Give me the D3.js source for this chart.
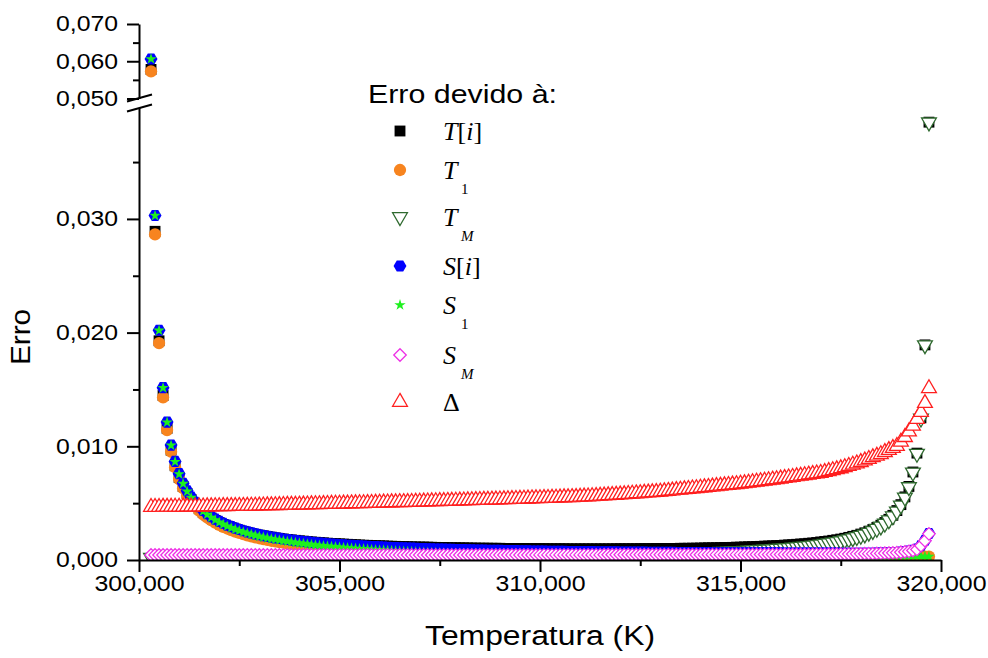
<!DOCTYPE html>
<html>
<head>
<meta charset="utf-8">
<script src="https://cdn.jsdelivr.net/npm/d3@7"></script>
<style>
  body { margin: 0; background: #fff; }
</style>
</head>
<body>
<div id="chart"></div>
<script>
// Temperatura (K) - one reading every 0.1 K
const temperatura = [
  300.3, 300.4, 300.5, 300.6, 300.7, 300.8, 300.9,
  301.0, 301.1, 301.2, 301.3, 301.4, 301.5, 301.6, 301.7, 301.8, 301.9,
  302.0, 302.1, 302.2, 302.3, 302.4, 302.5, 302.6, 302.7, 302.8, 302.9,
  303.0, 303.1, 303.2, 303.3, 303.4, 303.5, 303.6, 303.7, 303.8, 303.9,
  304.0, 304.1, 304.2, 304.3, 304.4, 304.5, 304.6, 304.7, 304.8, 304.9,
  305.0, 305.1, 305.2, 305.3, 305.4, 305.5, 305.6, 305.7, 305.8, 305.9,
  306.0, 306.1, 306.2, 306.3, 306.4, 306.5, 306.6, 306.7, 306.8, 306.9,
  307.0, 307.1, 307.2, 307.3, 307.4, 307.5, 307.6, 307.7, 307.8, 307.9,
  308.0, 308.1, 308.2, 308.3, 308.4, 308.5, 308.6, 308.7, 308.8, 308.9,
  309.0, 309.1, 309.2, 309.3, 309.4, 309.5, 309.6, 309.7, 309.8, 309.9,
  310.0, 310.1, 310.2, 310.3, 310.4, 310.5, 310.6, 310.7, 310.8, 310.9,
  311.0, 311.1, 311.2, 311.3, 311.4, 311.5, 311.6, 311.7, 311.8, 311.9,
  312.0, 312.1, 312.2, 312.3, 312.4, 312.5, 312.6, 312.7, 312.8, 312.9,
  313.0, 313.1, 313.2, 313.3, 313.4, 313.5, 313.6, 313.7, 313.8, 313.9,
  314.0, 314.1, 314.2, 314.3, 314.4, 314.5, 314.6, 314.7, 314.8, 314.9,
  315.0, 315.1, 315.2, 315.3, 315.4, 315.5, 315.6, 315.7, 315.8, 315.9,
  316.0, 316.1, 316.2, 316.3, 316.4, 316.5, 316.6, 316.7, 316.8, 316.9,
  317.0, 317.1, 317.2, 317.3, 317.4, 317.5, 317.6, 317.7, 317.8, 317.9,
  318.0, 318.1, 318.2, 318.3, 318.4, 318.5, 318.6, 318.7, 318.8, 318.9,
  319.0, 319.1, 319.2, 319.3, 319.4, 319.5, 319.6, 319.7
];

// Erro devido a T[i]
const erroTi = [
  0.0578, 0.02891, 0.01928, 0.01447, 0.01158, 0.00966, 0.00829,
  0.00726, 0.00646, 0.00583, 0.00531, 0.00487, 0.00451, 0.00419, 0.00392, 0.00369, 0.00348,
  0.00329, 0.00313, 0.00298, 0.00285, 0.00273, 0.00262, 0.00252, 0.00243, 0.00234, 0.00226,
  0.00219, 0.00213, 0.00206, 0.00201, 0.00195, 0.00190, 0.00185, 0.00181, 0.00177, 0.00173,
  0.00169, 0.00166, 0.00162, 0.00159, 0.00156, 0.00154, 0.00151, 0.00148, 0.00146, 0.00144,
  0.00142, 0.00140, 0.00138, 0.00136, 0.00134, 0.00132, 0.00130, 0.00129, 0.00127, 0.00126,
  0.00125, 0.00124, 0.00122, 0.00121, 0.00120, 0.00119, 0.00118, 0.00117, 0.00116, 0.00115,
  0.00114, 0.00114, 0.00113, 0.00112, 0.00111, 0.00110, 0.00110, 0.00109, 0.00108, 0.00108,
  0.00107, 0.00107, 0.00106, 0.00105, 0.00105, 0.00104, 0.00104, 0.00104, 0.00103, 0.00103,
  0.00103, 0.00102, 0.00102, 0.00102, 0.00101, 0.00101, 0.00101, 0.00100, 0.00100, 0.00100,
  0.00100, 0.00100, 0.00099, 0.00099, 0.00099, 0.00099, 0.00099, 0.00098, 0.00098, 0.00098,
  0.00098, 0.00098, 0.00098, 0.00098, 0.00098, 0.00098, 0.00098, 0.00098, 0.00098, 0.00099,
  0.00099, 0.00099, 0.00099, 0.00099, 0.00099, 0.00100, 0.00100, 0.00100, 0.00100, 0.00101,
  0.00101, 0.00101, 0.00101, 0.00102, 0.00102, 0.00103, 0.00103, 0.00103, 0.00104, 0.00104,
  0.00105, 0.00106, 0.00107, 0.00107, 0.00108, 0.00109, 0.00110, 0.00110, 0.00111, 0.00113,
  0.00113, 0.00115, 0.00116, 0.00117, 0.00119, 0.00120, 0.00122, 0.00123, 0.00125, 0.00127,
  0.00128, 0.00131, 0.00133, 0.00135, 0.00138, 0.00141, 0.00143, 0.00147, 0.00150, 0.00154,
  0.00159, 0.00163, 0.00167, 0.00173, 0.00178, 0.00184, 0.00191, 0.00199, 0.00208, 0.00217,
  0.00228, 0.00239, 0.00253, 0.00268, 0.00286, 0.00306, 0.00330, 0.00358, 0.00393, 0.00435,
  0.00487, 0.00555, 0.00647, 0.00774, 0.00940, 0.01250, 0.01892, 0.03851
];

// Erro devido a T1
const erroT1 = [
  0.0573, 0.02864, 0.01908, 0.01431, 0.01143, 0.00952, 0.00816,
  0.00712, 0.00632, 0.00568, 0.00515, 0.00472, 0.00434, 0.00402, 0.00375, 0.00350, 0.00329,
  0.00309, 0.00292, 0.00277, 0.00262, 0.00250, 0.00238, 0.00227, 0.00217, 0.00207, 0.00199,
  0.00191, 0.00183, 0.00176, 0.00169, 0.00163, 0.00157, 0.00152, 0.00146, 0.00141, 0.00136,
  0.00132, 0.00127, 0.00123, 0.00119, 0.00115, 0.00112, 0.00108, 0.00105, 0.00102, 0.00098,
  0.00095, 0.00092, 0.00090, 0.00087, 0.00084, 0.00082, 0.00079, 0.00077, 0.00074, 0.00072,
  0.00070, 0.00068, 0.00066, 0.00063, 0.00061, 0.00059, 0.00057, 0.00055, 0.00053, 0.00052,
  0.00050, 0.00048, 0.00047, 0.00045, 0.00044, 0.00042, 0.00040, 0.00039, 0.00037, 0.00036,
  0.00035, 0.00033, 0.00032, 0.00030, 0.00030, 0.00030, 0.00030, 0.00030, 0.00030, 0.00030,
  0.00030, 0.00030, 0.00030, 0.00030, 0.00030, 0.00030, 0.00030, 0.00030, 0.00030, 0.00030,
  0.00030, 0.00030, 0.00030, 0.00030, 0.00030, 0.00030, 0.00030, 0.00030, 0.00030, 0.00030,
  0.00030, 0.00030, 0.00030, 0.00030, 0.00030, 0.00030, 0.00030, 0.00030, 0.00030, 0.00030,
  0.00030, 0.00030, 0.00030, 0.00030, 0.00030, 0.00030, 0.00030, 0.00030, 0.00030, 0.00030,
  0.00030, 0.00030, 0.00030, 0.00030, 0.00030, 0.00030, 0.00030, 0.00030, 0.00030, 0.00030,
  0.00030, 0.00030, 0.00030, 0.00030, 0.00030, 0.00030, 0.00030, 0.00030, 0.00030, 0.00030,
  0.00030, 0.00030, 0.00030, 0.00030, 0.00030, 0.00030, 0.00030, 0.00030, 0.00030, 0.00030,
  0.00030, 0.00030, 0.00030, 0.00030, 0.00030, 0.00030, 0.00030, 0.00030, 0.00030, 0.00030,
  0.00030, 0.00030, 0.00030, 0.00030, 0.00030, 0.00030, 0.00030, 0.00030, 0.00030, 0.00030,
  0.00030, 0.00030, 0.00030, 0.00030, 0.00030, 0.00030, 0.00030, 0.00030, 0.00030, 0.00030,
  0.00030, 0.00030, 0.00030, 0.00030, 0.00030, 0.00030, 0.00030, 0.00030
];

// Erro devido a TM
const erroTM = [
  0.00020, 0.00020, 0.00020, 0.00020, 0.00020, 0.00020, 0.00020,
  0.00020, 0.00021, 0.00021, 0.00021, 0.00021, 0.00021, 0.00021, 0.00021, 0.00021, 0.00022,
  0.00022, 0.00022, 0.00022, 0.00022, 0.00022, 0.00022, 0.00022, 0.00023, 0.00023, 0.00023,
  0.00023, 0.00023, 0.00023, 0.00023, 0.00023, 0.00024, 0.00024, 0.00024, 0.00024, 0.00024,
  0.00024, 0.00025, 0.00025, 0.00025, 0.00025, 0.00025, 0.00025, 0.00026, 0.00026, 0.00026,
  0.00026, 0.00026, 0.00026, 0.00027, 0.00027, 0.00027, 0.00027, 0.00027, 0.00028, 0.00028,
  0.00028, 0.00028, 0.00028, 0.00029, 0.00029, 0.00029, 0.00029, 0.00029, 0.00030, 0.00030,
  0.00030, 0.00030, 0.00031, 0.00031, 0.00031, 0.00031, 0.00032, 0.00032, 0.00032, 0.00032,
  0.00033, 0.00033, 0.00033, 0.00033, 0.00034, 0.00034, 0.00034, 0.00035, 0.00035, 0.00035,
  0.00036, 0.00036, 0.00036, 0.00037, 0.00037, 0.00037, 0.00038, 0.00038, 0.00039, 0.00039,
  0.00039, 0.00040, 0.00040, 0.00041, 0.00041, 0.00041, 0.00042, 0.00042, 0.00043, 0.00043,
  0.00044, 0.00044, 0.00045, 0.00045, 0.00046, 0.00046, 0.00047, 0.00048, 0.00048, 0.00049,
  0.00049, 0.00050, 0.00051, 0.00051, 0.00052, 0.00053, 0.00053, 0.00054, 0.00055, 0.00056,
  0.00057, 0.00057, 0.00058, 0.00059, 0.00060, 0.00061, 0.00062, 0.00063, 0.00064, 0.00065,
  0.00066, 0.00068, 0.00069, 0.00070, 0.00071, 0.00073, 0.00074, 0.00075, 0.00077, 0.00079,
  0.00080, 0.00082, 0.00084, 0.00086, 0.00088, 0.00090, 0.00092, 0.00094, 0.00096, 0.00099,
  0.00101, 0.00104, 0.00107, 0.00110, 0.00113, 0.00117, 0.00120, 0.00124, 0.00128, 0.00133,
  0.00138, 0.00143, 0.00148, 0.00154, 0.00160, 0.00167, 0.00175, 0.00183, 0.00193, 0.00203,
  0.00214, 0.00226, 0.00241, 0.00257, 0.00275, 0.00296, 0.00321, 0.00350, 0.00385, 0.00428,
  0.00481, 0.00550, 0.00642, 0.00770, 0.00935, 0.01245, 0.01890, 0.03850
];

// Erro devido a S[i]
const erroSi = [
  0.0606, 0.0303, 0.02021, 0.01516, 0.01213, 0.01011, 0.00867,
  0.00759, 0.00675, 0.00608, 0.00553, 0.00507, 0.00469, 0.00436, 0.00407, 0.00382, 0.00360,
  0.00340, 0.00323, 0.00307, 0.00293, 0.00280, 0.00268, 0.00257, 0.00247, 0.00238, 0.00230,
  0.00222, 0.00214, 0.00208, 0.00201, 0.00195, 0.00190, 0.00185, 0.00180, 0.00175, 0.00171,
  0.00167, 0.00163, 0.00159, 0.00155, 0.00152, 0.00149, 0.00146, 0.00143, 0.00140, 0.00138,
  0.00135, 0.00133, 0.00130, 0.00128, 0.00126, 0.00124, 0.00122, 0.00120, 0.00118, 0.00117,
  0.00115, 0.00113, 0.00112, 0.00110, 0.00109, 0.00108, 0.00106, 0.00105, 0.00104, 0.00102,
  0.00101, 0.00100, 0.00099, 0.00098, 0.00097, 0.00096, 0.00095, 0.00094, 0.00093, 0.00092,
  0.00091, 0.00091, 0.00090, 0.00089, 0.00088, 0.00087, 0.00087, 0.00086, 0.00085, 0.00085,
  0.00084, 0.00083, 0.00083, 0.00082, 0.00082, 0.00081, 0.00080, 0.00080, 0.00079, 0.00079,
  0.00078, 0.00078, 0.00077, 0.00077, 0.00076, 0.00076, 0.00076, 0.00075, 0.00075, 0.00074,
  0.00074, 0.00074, 0.00073, 0.00073, 0.00072, 0.00072, 0.00072, 0.00071, 0.00071, 0.00071,
  0.00070, 0.00070, 0.00070, 0.00069, 0.00069, 0.00069, 0.00069, 0.00068, 0.00068, 0.00068,
  0.00067, 0.00067, 0.00067, 0.00067, 0.00066, 0.00066, 0.00066, 0.00066, 0.00066, 0.00065,
  0.00065, 0.00065, 0.00065, 0.00064, 0.00064, 0.00064, 0.00064, 0.00064, 0.00064, 0.00063,
  0.00063, 0.00063, 0.00063, 0.00063, 0.00062, 0.00062, 0.00062, 0.00062, 0.00062, 0.00062,
  0.00062, 0.00061, 0.00061, 0.00061, 0.00061, 0.00061, 0.00061, 0.00060, 0.00060, 0.00060,
  0.00060, 0.00060, 0.00060, 0.00060, 0.00060, 0.00059, 0.00059, 0.00059, 0.00059, 0.00059,
  0.00059, 0.00059, 0.00059, 0.00059, 0.00060, 0.00060, 0.00061, 0.00062, 0.00064, 0.00066,
  0.00070, 0.00074, 0.00078, 0.00085, 0.00095, 0.00127, 0.00172, 0.00233
];

// Erro devido a S1
const erroS1 = [
  0.0606, 0.03029, 0.02019, 0.01514, 0.01211, 0.01008, 0.00864,
  0.00755, 0.00671, 0.00603, 0.00548, 0.00501, 0.00462, 0.00429, 0.00400, 0.00374, 0.00351,
  0.00331, 0.00313, 0.00297, 0.00282, 0.00269, 0.00257, 0.00245, 0.00235, 0.00225, 0.00216,
  0.00208, 0.00200, 0.00193, 0.00186, 0.00180, 0.00174, 0.00168, 0.00163, 0.00158, 0.00153,
  0.00148, 0.00144, 0.00139, 0.00135, 0.00131, 0.00127, 0.00124, 0.00121, 0.00118, 0.00115,
  0.00112, 0.00109, 0.00106, 0.00103, 0.00101, 0.00098, 0.00096, 0.00094, 0.00091, 0.00089,
  0.00087, 0.00085, 0.00083, 0.00081, 0.00079, 0.00077, 0.00075, 0.00073, 0.00072, 0.00070,
  0.00069, 0.00067, 0.00066, 0.00064, 0.00063, 0.00061, 0.00060, 0.00058, 0.00057, 0.00056,
  0.00054, 0.00053, 0.00052, 0.00050, 0.00049, 0.00048, 0.00047, 0.00046, 0.00045, 0.00044,
  0.00043, 0.00041, 0.00040, 0.00039, 0.00038, 0.00037, 0.00036, 0.00035, 0.00034, 0.00033,
  0.00032, 0.00031, 0.00030, 0.00030, 0.00030, 0.00030, 0.00030, 0.00030, 0.00030, 0.00030,
  0.00030, 0.00030, 0.00030, 0.00030, 0.00030, 0.00030, 0.00030, 0.00030, 0.00030, 0.00030,
  0.00030, 0.00030, 0.00030, 0.00030, 0.00030, 0.00030, 0.00030, 0.00030, 0.00030, 0.00030,
  0.00030, 0.00030, 0.00030, 0.00030, 0.00030, 0.00030, 0.00030, 0.00030, 0.00030, 0.00030,
  0.00030, 0.00030, 0.00030, 0.00030, 0.00030, 0.00030, 0.00030, 0.00030, 0.00030, 0.00030,
  0.00030, 0.00030, 0.00030, 0.00030, 0.00030, 0.00030, 0.00030, 0.00030, 0.00030, 0.00030,
  0.00030, 0.00030, 0.00030, 0.00030, 0.00030, 0.00030, 0.00030, 0.00030, 0.00030, 0.00030,
  0.00030, 0.00030, 0.00030, 0.00030, 0.00030, 0.00030, 0.00030, 0.00030, 0.00030, 0.00030,
  0.00030, 0.00030, 0.00030, 0.00030, 0.00030, 0.00030, 0.00030, 0.00030, 0.00030, 0.00030,
  0.00030, 0.00030, 0.00030, 0.00030, 0.00030, 0.00030, 0.00030, 0.00030
];

// Erro devido a SM
const erroSM = [
  0.00044, 0.00044, 0.00044, 0.00044, 0.00044, 0.00044, 0.00044,
  0.00044, 0.00044, 0.00044, 0.00044, 0.00044, 0.00044, 0.00044, 0.00044, 0.00044, 0.00044,
  0.00044, 0.00044, 0.00044, 0.00044, 0.00044, 0.00044, 0.00044, 0.00044, 0.00044, 0.00044,
  0.00044, 0.00044, 0.00044, 0.00044, 0.00044, 0.00044, 0.00044, 0.00044, 0.00044, 0.00044,
  0.00044, 0.00044, 0.00044, 0.00044, 0.00044, 0.00044, 0.00044, 0.00044, 0.00044, 0.00044,
  0.00044, 0.00044, 0.00044, 0.00044, 0.00044, 0.00044, 0.00044, 0.00044, 0.00044, 0.00044,
  0.00044, 0.00044, 0.00044, 0.00044, 0.00044, 0.00044, 0.00044, 0.00044, 0.00044, 0.00044,
  0.00044, 0.00044, 0.00044, 0.00044, 0.00044, 0.00044, 0.00044, 0.00044, 0.00044, 0.00044,
  0.00044, 0.00044, 0.00044, 0.00044, 0.00044, 0.00044, 0.00044, 0.00044, 0.00044, 0.00044,
  0.00044, 0.00044, 0.00044, 0.00044, 0.00044, 0.00044, 0.00044, 0.00044, 0.00044, 0.00044,
  0.00045, 0.00045, 0.00045, 0.00045, 0.00045, 0.00045, 0.00045, 0.00045, 0.00045, 0.00045,
  0.00045, 0.00045, 0.00045, 0.00045, 0.00045, 0.00045, 0.00046, 0.00046, 0.00046, 0.00046,
  0.00046, 0.00046, 0.00046, 0.00046, 0.00046, 0.00046, 0.00046, 0.00046, 0.00046, 0.00046,
  0.00046, 0.00046, 0.00046, 0.00046, 0.00046, 0.00046, 0.00046, 0.00046, 0.00046, 0.00046,
  0.00046, 0.00047, 0.00047, 0.00047, 0.00047, 0.00047, 0.00047, 0.00047, 0.00047, 0.00047,
  0.00047, 0.00047, 0.00047, 0.00048, 0.00048, 0.00048, 0.00048, 0.00048, 0.00048, 0.00048,
  0.00048, 0.00048, 0.00049, 0.00049, 0.00049, 0.00049, 0.00049, 0.00049, 0.00050, 0.00050,
  0.00050, 0.00050, 0.00051, 0.00051, 0.00051, 0.00052, 0.00052, 0.00052, 0.00053, 0.00054,
  0.00054, 0.00055, 0.00056, 0.00056, 0.00057, 0.00058, 0.00060, 0.00061, 0.00063, 0.00065,
  0.00068, 0.00072, 0.00076, 0.00083, 0.00093, 0.00125, 0.00170, 0.00230
];

// Erro devido a Delta
const erroDelta = [
  0.00466, 0.00466, 0.00466, 0.00467, 0.00467, 0.00467, 0.00468,
  0.00468, 0.00468, 0.00469, 0.00469, 0.00469, 0.00470, 0.00470, 0.00471, 0.00471, 0.00472,
  0.00472, 0.00473, 0.00473, 0.00474, 0.00474, 0.00475, 0.00475, 0.00476, 0.00477, 0.00477,
  0.00478, 0.00479, 0.00480, 0.00480, 0.00481, 0.00482, 0.00483, 0.00484, 0.00485, 0.00485,
  0.00486, 0.00487, 0.00488, 0.00489, 0.00490, 0.00490, 0.00491, 0.00492, 0.00493, 0.00494,
  0.00494, 0.00495, 0.00496, 0.00497, 0.00498, 0.00499, 0.00499, 0.00500, 0.00501, 0.00502,
  0.00503, 0.00504, 0.00505, 0.00506, 0.00507, 0.00508, 0.00508, 0.00509, 0.00510, 0.00511,
  0.00512, 0.00513, 0.00514, 0.00515, 0.00516, 0.00517, 0.00518, 0.00519, 0.00520, 0.00521,
  0.00522, 0.00523, 0.00524, 0.00525, 0.00526, 0.00527, 0.00528, 0.00529, 0.00530, 0.00531,
  0.00532, 0.00533, 0.00534, 0.00535, 0.00536, 0.00537, 0.00538, 0.00539, 0.00541, 0.00542,
  0.00543, 0.00544, 0.00545, 0.00546, 0.00547, 0.00548, 0.00550, 0.00551, 0.00552, 0.00553,
  0.00555, 0.00557, 0.00558, 0.00560, 0.00562, 0.00564, 0.00566, 0.00568, 0.00570, 0.00572,
  0.00575, 0.00577, 0.00580, 0.00582, 0.00585, 0.00587, 0.00590, 0.00592, 0.00595, 0.00597,
  0.00600, 0.00603, 0.00607, 0.00610, 0.00614, 0.00617, 0.00621, 0.00624, 0.00628, 0.00631,
  0.00635, 0.00638, 0.00642, 0.00645, 0.00649, 0.00652, 0.00656, 0.00659, 0.00663, 0.00666,
  0.00670, 0.00674, 0.00679, 0.00683, 0.00688, 0.00692, 0.00697, 0.00701, 0.00706, 0.00710,
  0.00715, 0.00720, 0.00725, 0.00730, 0.00735, 0.00740, 0.00745, 0.00750, 0.00755, 0.00760,
  0.00765, 0.00773, 0.00781, 0.00789, 0.00797, 0.00805, 0.00815, 0.00826, 0.00837, 0.00848,
  0.00860, 0.00874, 0.00888, 0.00902, 0.00916, 0.00930, 0.00948, 0.00966, 0.00984, 0.01002,
  0.01040, 0.01080, 0.01130, 0.01180, 0.01240, 0.01300, 0.01380, 0.01510
];

// axis ticks
const xTicks = [300, 305, 310, 315, 320];
const xMinorTicks = [302.5, 307.5, 312.5, 317.5];
const yLowTicks = [0, 0.01, 0.02, 0.03];
const yLowMinorTicks = [0.005, 0.015, 0.025, 0.035];
const yHighTicks = [0.05, 0.06, 0.07];
const yHighMinorTicks = [0.055, 0.065];

const width = 988;
const height = 658;

// decimal comma, like the original
const fmt = d3.formatLocale({decimal: ",", thousands: ".", grouping: [3], currency: ["", ""]}).format(".3f");

const svg = d3.select("#chart").append("svg")
    .attr("width", width)
    .attr("height", height)
    .style("background", "#fff");

// scales (y axis is broken between 0.040 and 0.050)
const x = d3.scaleLinear().domain([300, 320]).range([139, 941]);
const yLow = d3.scaleLinear().domain([0, 0.0398]).range([560, 107.5]);
const yHigh = d3.scaleLinear().domain([0.05, 0.07]).range([98.5, 24]);
const yPos = v => v > yLow.domain()[1] ? yHigh(v) : yLow(v);

// custom marker shapes
const symHexagon = {
  draw(ctx, size) {
    const r = Math.sqrt(size / (1.5 * Math.sqrt(3)));
    for (let k = 0; k < 6; k++) {
      const a = k * Math.PI / 3;
      if (k === 0) ctx.moveTo(r * Math.cos(a), r * Math.sin(a));
      else ctx.lineTo(r * Math.cos(a), r * Math.sin(a));
    }
    ctx.closePath();
  }
};
const symDiamond = {
  draw(ctx, size) {
    const h = Math.sqrt(size / 2);
    ctx.moveTo(0, -h);
    ctx.lineTo(h, 0);
    ctx.lineTo(0, h);
    ctx.lineTo(-h, 0);
    ctx.closePath();
  }
};

const series = [
  {values: erroTi, type: d3.symbolSquare, size: 118, fill: "#000", stroke: "none", sw: 0},
  {values: erroT1, type: d3.symbolCircle, size: 118, fill: "#f7841f", stroke: "none", sw: 0},
  {values: erroTM, type: d3.symbolTriangle, size: 95, rotate: 180, fill: "#fff", stroke: "#2f6a2f", sw: 1.3},
  {values: erroSi, type: symHexagon, size: 108, fill: "#0000ff", stroke: "none", sw: 0},
  {values: erroS1, type: d3.symbolStar, size: 40, fill: "#1ef01e", stroke: "none", sw: 0},
  {values: erroSM, type: symDiamond, size: 78, fill: "#fff", stroke: "#ee30e6", sw: 1.3},
  {values: erroDelta, type: d3.symbolTriangle, size: 95, fill: "#fff", stroke: "#ff1f1f", sw: 1.3}
];

series.forEach(s => {
  if (s.values.length !== temperatura.length) console.warn("length mismatch", s.values.length);
});

svg.append("defs").append("clipPath").attr("id", "clip")
  .append("rect").attr("x", 0).attr("y", 0).attr("width", width).attr("height", 561);

const plot = svg.append("g").attr("clip-path", "url(#clip)");

series.forEach(s => {
  const sym = d3.symbol().type(s.type).size(s.size);
  plot.append("g")
    .selectAll("path")
    .data(temperatura.map((t, i) => [t, s.values[i]]))
    .join("path")
      .attr("transform", d => `translate(${x(d[0])},${yPos(d[1])})` + (s.rotate ? ` rotate(${s.rotate})` : ""))
      .attr("d", sym)
      .attr("fill", s.fill)
      .attr("stroke", s.stroke)
      .attr("stroke-width", s.sw);
});

// axes
function styleAxis(g, labelWidth) {
  g.attr("font-family", "'Liberation Sans', Arial, sans-serif").attr("font-size", 21.5);
  g.select(".domain").attr("stroke", "#000").attr("stroke-width", 2);
  g.selectAll(".tick line").attr("stroke", "#000").attr("stroke-width", 2);
  g.selectAll(".tick text").attr("fill", "#000")
    .attr("textLength", labelWidth).attr("lengthAdjust", "spacingAndGlyphs");
}

const xAxis = svg.append("g").attr("transform", "translate(0,560)")
  .call(d3.axisBottom(x).tickValues(xTicks).tickFormat(fmt).tickSize(12).tickSizeOuter(0).tickPadding(4));
styleAxis(xAxis, 90);

svg.append("g").attr("transform", "translate(0,560)")
  .call(d3.axisBottom(x).tickValues(xMinorTicks).tickFormat("").tickSize(6).tickSizeOuter(0))
  .call(g => { g.select(".domain").remove(); g.selectAll("line").attr("stroke", "#000").attr("stroke-width", 2); });

const yLowAxis = svg.append("g").attr("transform", "translate(139,0)")
  .call(d3.axisLeft(yLow).tickValues(yLowTicks).tickFormat(fmt).tickSize(12).tickSizeOuter(0).tickPadding(9));
styleAxis(yLowAxis, 62);

svg.append("g").attr("transform", "translate(139,0)")
  .call(d3.axisLeft(yLow).tickValues(yLowMinorTicks).tickFormat("").tickSize(6).tickSizeOuter(0))
  .call(g => { g.select(".domain").remove(); g.selectAll("line").attr("stroke", "#000").attr("stroke-width", 2); });

const yHighAxis = svg.append("g").attr("transform", "translate(139,0)")
  .call(d3.axisLeft(yHigh).tickValues(yHighTicks).tickFormat(fmt).tickSize(12).tickSizeOuter(0).tickPadding(9));
styleAxis(yHighAxis, 62);

svg.append("g").attr("transform", "translate(139,0)")
  .call(d3.axisLeft(yHigh).tickValues(yHighMinorTicks).tickFormat("").tickSize(6).tickSizeOuter(0))
  .call(g => { g.select(".domain").remove(); g.selectAll("line").attr("stroke", "#000").attr("stroke-width", 2); });

// break marks on the y axis
[yHigh(0.05) - 0.5, yLow(yLow.domain()[1]) + 0.5].forEach(yb => {
  svg.append("line")
    .attr("x1", 127).attr("y1", yb + 3.5)
    .attr("x2", 152).attr("y2", yb - 3.5)
    .attr("stroke", "#000").attr("stroke-width", 2);
});

// axis titles
svg.append("text")
  .attr("x", 540).attr("y", 645)
  .attr("text-anchor", "middle")
  .attr("font-family", "'Liberation Sans', Arial, sans-serif")
  .attr("font-size", 27)
  .attr("textLength", 230).attr("lengthAdjust", "spacingAndGlyphs")
  .text("Temperatura (K)");

svg.append("text")
  .attr("transform", "translate(30,337) rotate(-90)")
  .attr("text-anchor", "middle")
  .attr("font-family", "'Liberation Sans', Arial, sans-serif")
  .attr("font-size", 27)
  .attr("textLength", 56).attr("lengthAdjust", "spacingAndGlyphs")
  .text("Erro");

// legend
const legend = svg.append("g");
legend.append("text")
  .attr("x", 368).attr("y", 103)
  .attr("font-family", "'Liberation Sans', Arial, sans-serif")
  .attr("font-size", 25)
  .attr("textLength", 189).attr("lengthAdjust", "spacingAndGlyphs")
  .text("Erro devido à:");

const legendLabels = [
  {main: "T", idx: "i"},
  {main: "T", sub: "1"},
  {main: "T", sub: "M", subItalic: true},
  {main: "S", idx: "i"},
  {main: "S", sub: "1"},
  {main: "S", sub: "M", subItalic: true},
  {main: "Δ", upright: true}
];
const legendY = [131, 170, 217, 266, 305, 355, 402];

series.forEach((s, i) => {
  const cy = legendY[i];
  legend.append("path")
    .attr("transform", `translate(400,${cy})` + (s.rotate ? ` rotate(${s.rotate})` : ""))
    .attr("d", d3.symbol().type(s.type).size(s.size)())
    .attr("fill", s.fill)
    .attr("stroke", s.stroke)
    .attr("stroke-width", s.sw);

  const lab = legendLabels[i];
  const t = legend.append("text")
    .attr("x", 443).attr("y", cy + 9)
    .attr("font-family", "'Liberation Serif', 'Times New Roman', serif")
    .attr("font-size", 26);
  t.append("tspan").attr("font-style", lab.upright ? "normal" : "italic").text(lab.main);
  if (lab.idx) {
    t.append("tspan").text("[");
    t.append("tspan").attr("font-style", "italic").text(lab.idx);
    t.append("tspan").text("]");
  }
  if (lab.sub) {
    legend.append("text")
      .attr("x", 461).attr("y", cy + 24)
      .attr("font-family", "'Liberation Serif', 'Times New Roman', serif")
      .attr("font-size", 15)
      .attr("font-style", lab.subItalic ? "italic" : "normal")
      .text(lab.sub);
  }
});
</script>
</body>
</html>
